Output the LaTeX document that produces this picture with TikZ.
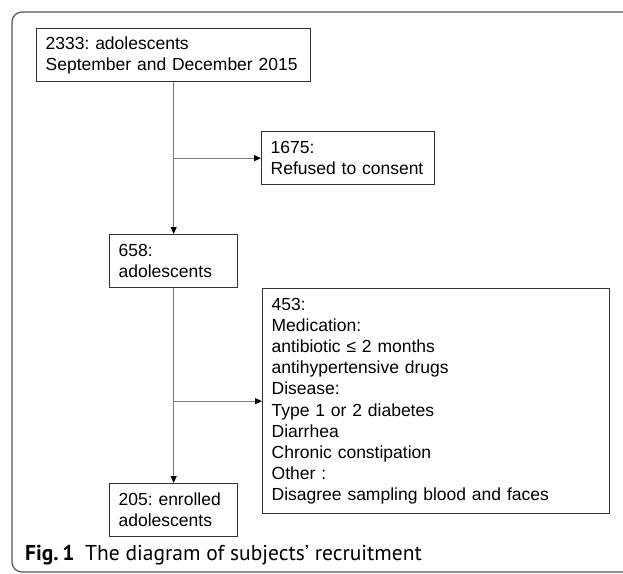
\documentclass[tikz,border=0pt]{standalone}
\usepackage{fontspec}
\setmainfont{Liberation Sans}
\newfontfamily\capfont{PT Sans}
\usetikzlibrary{arrows.meta}
\frenchspacing
\definecolor{boxline}{HTML}{333333}
\definecolor{conline}{HTML}{7A7A7A}
\definecolor{frameline}{HTML}{555555}
\tikzset{
  box/.style={draw=boxline, line width=1.3pt, rectangle, align=left, inner xsep=9pt, inner ysep=0pt,
    font=\fontsize{17.5}{21.1}\selectfont, anchor=north west},
  conn/.style={draw=conline, line width=1pt},
  arr/.style={conn, -{Triangle[length=7pt,width=6pt,color=black]}}
}
\begin{document}
\begin{tikzpicture}[x=1pt,y=-1pt]
\useasboundingbox (0,0) rectangle (623,573);
\clip (0,0) rectangle (623,573);
\draw[frameline, line width=1.2pt, rounded corners=10pt] (12,12) rectangle (660,572);
% boxes
\node[box, minimum width=274pt, minimum height=53pt, text width=256pt] (b1) at (36,28) {2333: adolescents\\September and December 2015};
\node[box, minimum width=173pt, minimum height=53pt, text width=155pt] (b1675) at (261,131) {1675:\\Refused to consent};
\node[box, minimum width=128pt, minimum height=53pt, text width=110pt] (b658) at (109,234) {658:\\adolescents};
\node[box, minimum width=347pt, minimum height=225pt, text width=329pt] (b453) at (262,288) {453:\\Medication:\\antibiotic ≤ 2 months\\antihypertensive drugs\\Disease:\\Type 1 or 2 diabetes\\Diarrhea\\Chronic constipation\\Other :\\Disagree sampling blood and faces};
\node[box, minimum width=128pt, minimum height=53pt, text width=110pt] (b205) at (109,483) {205: enrolled\\adolescents};
% connectors
\draw[arr] (b1.south) -- (b658.north);
\draw[arr] (b1.south |- b1675.west) -- (b1675.west);
\draw[arr] (b658.south) -- (b205.north);
\draw[arr] (b658.south |- b453.west) -- (b453.west);
% caption
\node[anchor=base west, inner sep=0pt, font=\capfont\fontsize{21.5}{24}\selectfont] (cap) at (25,560) {\textbf{Fig.\,1}\enspace The diagram of subjects’ recruitment};
\end{tikzpicture}
\end{document}
